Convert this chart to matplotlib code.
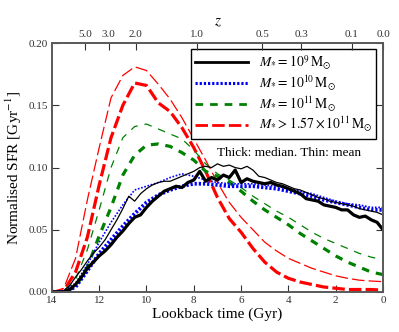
import numpy as np
import matplotlib
matplotlib.use("Agg")
import matplotlib.pyplot as plt
from matplotlib.lines import Line2D

plt.rcParams["font.family"] = ["Liberation Serif", "DejaVu Serif"]
plt.rcParams["mathtext.fontset"] = "stix"
plt.rcParams["lines.scale_dashes"] = False

# lookback time grids (Gyr)
t_coarse = [14.0, 13.5, 13.0, 12.5, 12.0, 11.5, 11.0, 10.5, 10.0, 9.5, 9.0, 8.5, 8.0, 7.5,
            7.0, 6.5, 6.0, 5.5, 5.0, 4.5, 4.0, 3.5, 3.0, 2.5, 2.0, 1.5, 1.0, 0.5, 0.0]
t_fine = [14.0, 13.75, 13.5, 13.25, 13.0, 12.75, 12.5, 12.25, 12.0, 11.75, 11.5, 11.25,
          11.0, 10.75, 10.5, 10.25, 10.0, 9.75, 9.5, 9.25, 9.0, 8.75, 8.5, 8.25, 8.0, 7.75,
          7.5, 7.25, 7.0, 6.75, 6.5, 6.25, 6.0, 5.75, 5.5, 5.25, 5.0, 4.75, 4.5, 4.25, 4.0,
          3.75, 3.5, 3.25, 3.0, 2.75, 2.5, 2.25, 2.0, 1.75, 1.5, 1.25, 1.0, 0.75, 0.5, 0.25, 0.0]

# M* = 1e9 (fine grid)
m9_median = [0, 0, 0, 0.002, 0.006, 0.012, 0.019, 0.024, 0.029, 0.033, 0.038, 0.044,
             0.049, 0.055, 0.060, 0.062, 0.068, 0.073, 0.077, 0.081, 0.083, 0.085, 0.084, 0.088,
             0.090, 0.097, 0.089, 0.092, 0.090, 0.094, 0.092, 0.098, 0.088, 0.091, 0.089, 0.088,
             0.087, 0.088, 0.086, 0.085, 0.083, 0.081, 0.079, 0.075, 0.074, 0.073, 0.070, 0.069,
             0.068, 0.066, 0.066, 0.062, 0.060, 0.061, 0.058, 0.056, 0.050]
m9_mean = [0, 0, 0.001, 0.005, 0.012, 0.018, 0.025, 0.031, 0.036, 0.042, 0.050, 0.058,
           0.067, 0.077, 0.073, 0.079, 0.083, 0.086, 0.088, 0.089, 0.089, 0.091, 0.093, 0.095,
           0.097, 0.100, 0.101, 0.100, 0.103, 0.101, 0.102, 0.100, 0.099, 0.101, 0.098, 0.093,
           0.092, 0.090, 0.088, 0.087, 0.085, 0.083, 0.082, 0.080, 0.078, 0.076, 0.075, 0.073,
           0.072, 0.071, 0.070, 0.069, 0.067, 0.066, 0.065, 0.064, 0.062]

# M* = 1e10, 1e11, >1.57e11 (coarse grid)
m10_median = [0, 0, 0.004, 0.017, 0.031, 0.042, 0.053, 0.063, 0.072, 0.078, 0.082, 0.085,
              0.087, 0.087, 0.086, 0.085, 0.085, 0.085, 0.084, 0.083, 0.081, 0.079, 0.077,
              0.074, 0.072, 0.070, 0.068, 0.066, 0.066]
m10_mean = [0, 0.001, 0.007, 0.022, 0.040, 0.056, 0.070, 0.082, 0.085, 0.088, 0.092, 0.095,
            0.093, 0.090, 0.088, 0.087, 0.087, 0.087, 0.086, 0.085, 0.083, 0.081, 0.079,
            0.076, 0.073, 0.071, 0.070, 0.068, 0.068]
m11_median = [0, 0, 0.004, 0.020, 0.045, 0.068, 0.094, 0.110, 0.118, 0.119, 0.117, 0.112,
              0.106, 0.097, 0.093, 0.088, 0.081, 0.073, 0.066, 0.060, 0.054, 0.047, 0.041,
              0.035, 0.029, 0.024, 0.020, 0.016, 0.014]
m11_mean = [0, 0.001, 0.010, 0.034, 0.066, 0.100, 0.124, 0.133, 0.135, 0.131, 0.127, 0.123,
            0.114, 0.103, 0.095, 0.090, 0.084, 0.077, 0.071, 0.065, 0.060, 0.054, 0.048,
            0.043, 0.039, 0.035, 0.031, 0.028, 0.026]
mhi_median = [0, 0.001, 0.016, 0.044, 0.086, 0.124, 0.150, 0.168, 0.166, 0.152, 0.145, 0.132,
              0.116, 0.097, 0.076, 0.059, 0.048, 0.035, 0.024, 0.016, 0.011, 0.008, 0.006,
              0.004, 0.003, 0.002, 0.002, 0.002, 0.0015]
mhi_mean = [0, 0.003, 0.027, 0.074, 0.116, 0.156, 0.174, 0.181, 0.178, 0.167, 0.155, 0.140,
            0.123, 0.106, 0.088, 0.072, 0.060, 0.050, 0.040, 0.033, 0.027, 0.023, 0.019,
            0.016, 0.013, 0.011, 0.0095, 0.0088, 0.0083]

# redshift axis
z_ticks = [5.0, 3.0, 2.0, 1.0, 0.5, 0.3, 0.1, 0.0]
z_lookback = [12.6, 11.6, 10.45, 7.85, 5.1, 3.45, 1.32, 0.0]

legend_labels = [r"$M_{*} = 10^{9}\,\mathrm{M}_{\odot}$",
                 r"$M_{*} = 10^{10}\,\mathrm{M}_{\odot}$",
                 r"$M_{*} = 10^{11}\,\mathrm{M}_{\odot}$",
                 r"$M_{*} > 1.57\times10^{11}\,\mathrm{M}_{\odot}$"]

THICK, THIN = 2.3, 0.9
dot_thick = (0, (1.6, 1.4))
dot_thin = (0, (1.2, 1.2))
dash_green = (0, (5.5, 5.0))
dash_red = (0, (9.0, 3.0))

fig = plt.figure(figsize=(3.99, 3.32), dpi=100)
ax = fig.add_axes([0.130, 0.1205, 0.830, 0.7495])

ax.plot(t_coarse, mhi_mean, color="red", lw=THIN, ls=dash_red)
ax.plot(t_coarse, mhi_median, color="red", lw=THICK, ls=dash_red)
ax.plot(t_coarse, m11_mean, color="green", lw=THIN, ls=dash_green)
ax.plot(t_coarse, m11_median, color="green", lw=THICK, ls=dash_green)
ax.plot(t_coarse, m10_mean, color="blue", lw=THIN + 0.3, ls=dot_thin)
ax.plot(t_coarse, m10_median, color="blue", lw=THICK + 0.4, ls=dot_thick)
ax.plot(t_fine, m9_mean, color="black", lw=THIN)
ax.plot(t_fine, m9_median, color="black", lw=THICK)

ax.set_xlim(14, 0)
ax.set_ylim(0, 0.20)
ax.set_xticks([14, 12, 10, 8, 6, 4, 2, 0])
ax.set_yticks([0.0, 0.05, 0.10, 0.15, 0.20])
ax.set_yticklabels(["0.00", "0.05", "0.10", "0.15", "0.20"])
ax.tick_params(direction="in", length=5, width=0.8, labelsize=8, colors="0.2",
               right=True, top=False, pad=3)
ax.set_xlabel("Lookback time (Gyr)", fontsize=11, labelpad=2)
ax.set_ylabel(r"Normalised SFR [Gyr$^{-1}$]", fontsize=11, labelpad=3)

ax2 = ax.twiny()
ax2.set_xlim(ax.get_xlim())
ax2.set_xticks(z_lookback)
ax2.set_xticklabels([f"{z:.1f}" for z in z_ticks])
ax2.tick_params(direction="in", length=5, width=0.8, labelsize=8, colors="0.2", pad=3)
ax2.set_xlabel(r"$z$", fontsize=11, labelpad=3)

for a in (ax, ax2):
    for s in a.spines.values():
        s.set_color("0.35")
        s.set_linewidth(1.2)

handles = [Line2D([], [], color="black", lw=2.0),
           Line2D([], [], color="blue", lw=2.2, ls=dot_thick),
           Line2D([], [], color="green", lw=2.0, ls=dash_green),
           Line2D([], [], color="red", lw=2.0, ls=dash_red)]
leg = ax.legend(handles, legend_labels, loc="upper right", bbox_to_anchor=(0.979, 0.976),
                borderaxespad=0, fontsize=9.8, fancybox=False, framealpha=1,
                handlelength=3.9, handletextpad=0.8, labelspacing=0.12, borderpad=0.3)
leg.get_frame().set_edgecolor("black")
leg.get_frame().set_linewidth(1.0)

ax.text(0.716, 0.558, "Thick: median. Thin: mean", transform=ax.transAxes,
        ha="center", va="center", fontsize=9.5)

fig.savefig("out.png", dpi=100)
